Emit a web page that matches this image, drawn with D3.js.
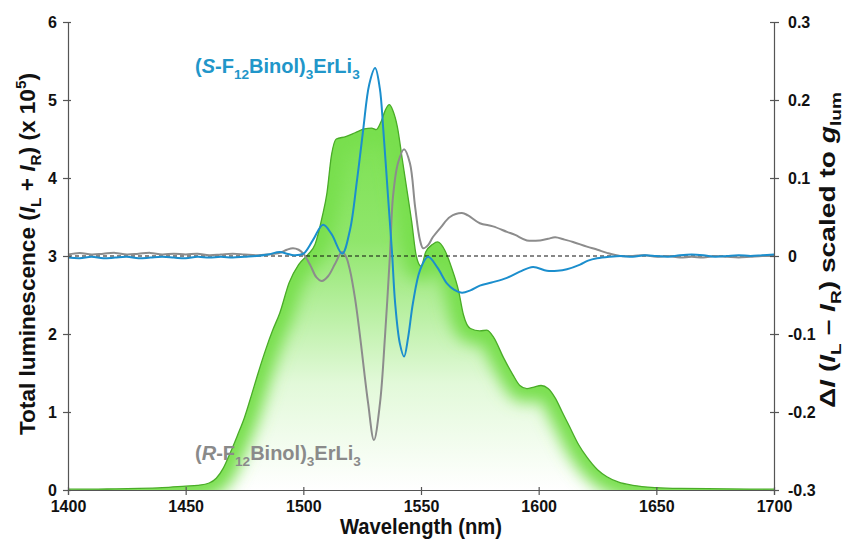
<!DOCTYPE html>
<html>
<head>
<meta charset="utf-8">
<script src="https://cdn.jsdelivr.net/npm/d3@7"></script>
<style>
  body { margin: 0; background: #fff; }
  svg { display: block; font-family: "Liberation Sans", Arial, sans-serif; font-weight: bold; }
</style>
</head>
<body>
<svg id="chart" width="849" height="540"></svg>
<script>
// --- data ---
// total luminescence (left axis, x 10^5)
const totalNm = [1400, 1410, 1420, 1430, 1440, 1450, 1455, 1460, 1463, 1466, 1469, 1472, 1475, 1478, 1481, 1484, 1487, 1490,
  1494, 1498, 1502, 1505, 1508, 1510, 1512, 1514, 1518, 1522, 1526, 1529, 1531, 1533, 1535, 1536.5, 1538, 1540, 1542, 1544,
  1546, 1548, 1550, 1552, 1555, 1557, 1560, 1563, 1566, 1568, 1571, 1575, 1578, 1581, 1585, 1589, 1592, 1595, 1598, 1601,
  1604, 1607, 1610, 1613, 1617, 1620.5, 1625, 1629, 1634, 1640, 1650, 1660, 1680, 1700];
const totalVal = [0.01, 0.01, 0.015, 0.02, 0.03, 0.05, 0.06, 0.09, 0.15, 0.28, 0.48, 0.7, 0.93, 1.22, 1.52, 1.8, 2.05, 2.27,
  2.66, 2.89, 3.02, 3.15, 3.5, 3.8, 4.3, 4.5, 4.53, 4.58, 4.63, 4.64, 4.62, 4.72, 4.88, 4.94, 4.87, 4.65, 4.25, 3.85,
  3.45, 3.0, 2.87, 3.05, 3.15, 3.18, 3.08, 2.85, 2.55, 2.25, 2.07, 2.04, 2.05, 1.95, 1.7, 1.48, 1.34, 1.3, 1.32, 1.34,
  1.3, 1.18, 1.0, 0.82, 0.58, 0.42, 0.26, 0.17, 0.1, 0.06, 0.03, 0.02, 0.015, 0.01];

// (S-F12Binol)3ErLi3, right axis
const sNm = [1400, 1405, 1410, 1415, 1420, 1425, 1430, 1435, 1440, 1445, 1450, 1455, 1460, 1465, 1470, 1475, 1480, 1485,
  1490, 1493, 1496, 1500, 1504, 1508.4, 1512, 1516.5, 1519.8, 1522.8, 1525.4, 1528, 1530.5, 1532.5, 1534, 1536, 1537.7,
  1539, 1541, 1542.8, 1544.5, 1546.6, 1549.6, 1553, 1557, 1561, 1564, 1567.4, 1571, 1575, 1580, 1586.5, 1592, 1597.6,
  1603.5, 1608, 1612, 1617.6, 1621, 1624.8, 1630, 1635, 1640, 1645, 1650, 1655, 1660, 1665, 1670, 1675, 1680, 1685,
  1690, 1695, 1700];
const sVal = [-0.002, -0.003, -0.001, -0.003, -0.002, -0.001, -0.003, -0.002, -0.001, -0.002, -0.003, -0.001, -0.002,
  -0.001, -0.002, -0.001, 0.0, 0.002, 0.005, 0.003, 0.001, 0.003, 0.02, 0.04, 0.028, 0.003, 0.033, 0.097, 0.161, 0.22,
  0.241, 0.215, 0.161, 0.076, 0.004, -0.06, -0.112, -0.129, -0.105, -0.06, -0.018, -0.001, -0.015, -0.035, -0.043,
  -0.047, -0.044, -0.038, -0.034, -0.028, -0.02, -0.014, -0.019, -0.019, -0.017, -0.011, -0.006, -0.003, -0.001, 0.0,
  -0.001, 0.001, 0.0, -0.001, 0.001, 0.002, 0.001, -0.001, 0.0, 0.001, 0.0, 0.001, 0.002];

// (R-F12Binol)3ErLi3, right axis
const rNm = [1400, 1405, 1410, 1415, 1420, 1425, 1430, 1435, 1440, 1445, 1450, 1455, 1460, 1465, 1470, 1475, 1480, 1485,
  1490, 1493, 1495.6, 1498, 1500, 1503, 1505.5, 1507.9, 1510.5, 1513.5, 1516.4, 1518, 1519.8, 1522, 1524.1, 1527.5,
  1530, 1532.6, 1534.7, 1536.8, 1538.1, 1540.2, 1542.8, 1545.3, 1547.5, 1549.6, 1550.9, 1553, 1555, 1558.5, 1562.3,
  1567.4, 1570, 1575, 1580.6, 1586.5, 1590, 1595, 1600.6, 1604, 1607, 1611, 1614.6, 1620.5, 1625, 1629, 1634.6, 1640,
  1645, 1650, 1655, 1660, 1665, 1670, 1675, 1680, 1685, 1690, 1695, 1700];
const rVal = [0.002, 0.004, 0.002, 0.003, 0.004, 0.002, 0.003, 0.004, 0.002, 0.003, 0.002, 0.003, 0.001, 0.002, 0.003,
  0.002, 0.001, 0.002, 0.004, 0.008, 0.01, 0.008, 0.003, -0.012, -0.027, -0.032, -0.026, -0.01, 0.005, 0.0, -0.018,
  -0.055, -0.103, -0.188, -0.236, -0.188, -0.103, 0.001, 0.076, 0.119, 0.137, 0.119, 0.063, 0.02, 0.01, 0.014, 0.024,
  0.037, 0.05, 0.055, 0.052, 0.042, 0.038, 0.031, 0.027, 0.02, 0.02, 0.022, 0.024, 0.021, 0.018, 0.012, 0.008, 0.004,
  0.0, 0.0, 0.001, -0.001, 0.0, -0.002, -0.001, -0.002, 0.0, -0.001, -0.002, -0.001, 0.0, 0.0];

const xTicks = [1400, 1450, 1500, 1550, 1600, 1650, 1700];
const leftTicks = [0, 1, 2, 3, 4, 5, 6];
const rightTicks = [-0.3, -0.2, -0.1, 0, 0.1, 0.2, 0.3];

// --- setup ---
const W = 849, H = 540;
const margin = {top: 22, right: 75, bottom: 50, left: 68};
const svg = d3.select("#chart");

const x = d3.scaleLinear().domain([1400, 1700]).range([margin.left, W - margin.right]);
const yL = d3.scaleLinear().domain([0, 6]).range([H - margin.bottom, margin.top]);
const yR = d3.scaleLinear().domain([-0.3, 0.3]).range([H - margin.bottom, margin.top]);

const total = totalNm.map((d, i) => [d, totalVal[i]]);
const sData = sNm.map((d, i) => [d, sVal[i]]);
const rData = rNm.map((d, i) => [d, rVal[i]]);

const defs = svg.append("defs");
const grad = defs.append("linearGradient")
  .attr("id", "greenFade")
  .attr("gradientUnits", "userSpaceOnUse")
  .attr("x1", 0).attr("x2", 0)
  .attr("y1", yL(4.9)).attr("y2", yL(0));
grad.append("stop").attr("offset", 0).attr("stop-color", "#78e04c");
grad.append("stop").attr("offset", 0.35).attr("stop-color", "#90e66c");
grad.append("stop").attr("offset", 0.72).attr("stop-color", "#e2f9d9");
grad.append("stop").attr("offset", 1).attr("stop-color", "#ffffff");

defs.append("filter").attr("id", "blur")
  .attr("x", "-20%").attr("y", "-20%").attr("width", "140%").attr("height", "140%")
  .append("feGaussianBlur").attr("stdDeviation", 8);

const area = d3.area()
  .x(d => x(d[0])).y0(yL(0)).y1(d => yL(d[1]))
  .curve(d3.curveMonotoneX);
const topLine = d3.line()
  .x(d => x(d[0])).y(d => yL(d[1]))
  .curve(d3.curveMonotoneX);

defs.append("clipPath").attr("id", "areaClip")
  .append("path").attr("d", area(total));

// green spectrum: faded fill + soft glow along the edge
svg.append("path").attr("d", area(total)).attr("fill", "url(#greenFade)");
svg.append("g").attr("clip-path", "url(#areaClip)")
  .append("path")
  .attr("d", topLine(total))
  .attr("fill", "none")
  .attr("stroke", "#78df4e")
  .attr("stroke-width", 28)
  .attr("filter", "url(#blur)");
svg.append("path").attr("d", topLine(total))
  .attr("fill", "none").attr("stroke", "#4aac28").attr("stroke-width", 1.3);

// zero line for the right axis
svg.append("line")
  .attr("x1", x(1400)).attr("x2", x(1700))
  .attr("y1", yR(0)).attr("y2", yR(0))
  .attr("stroke", "#111").attr("stroke-width", 1.2)
  .attr("stroke-dasharray", "4,3");

const lineR = d3.line().x(d => x(d[0])).y(d => yR(d[1])).curve(d3.curveCatmullRom.alpha(0.5));

svg.append("path").attr("d", lineR(rData))
  .attr("fill", "none").attr("stroke", "#8c8c8c").attr("stroke-width", 2);
svg.append("path").attr("d", lineR(sData))
  .attr("fill", "none").attr("stroke", "#1b8ecd").attr("stroke-width", 2);

// --- axes ---
const axisColor = "#555";
function styleAxis(g) {
  g.select(".domain").attr("stroke", axisColor).attr("stroke-width", 1.2);
  g.selectAll(".tick line").attr("stroke", axisColor).attr("stroke-width", 1.2);
  g.selectAll(".tick text").attr("fill", "#111").style("font-size", "16px").style("font-weight", "bold")
    .style("font-family", "'Liberation Sans', Arial, sans-serif");
}

const gx = svg.append("g").attr("transform", `translate(0,${H - margin.bottom})`)
  .call(d3.axisBottom(x).tickValues(xTicks).tickSizeOuter(0).tickSize(5).tickPadding(6).tickFormat(d3.format("d")));
styleAxis(gx);
gx.selectAll(".tick line").attr("y1", -3);

const gl = svg.append("g").attr("transform", `translate(${margin.left},0)`)
  .call(d3.axisLeft(yL).tickValues(leftTicks).tickSizeOuter(0).tickSize(5).tickPadding(6).tickFormat(d3.format("d")));
styleAxis(gl);
gl.selectAll(".tick line").attr("x1", 3);

const gr = svg.append("g").attr("transform", `translate(${W - margin.right},0)`)
  .call(d3.axisRight(yR).tickValues(rightTicks).tickSizeOuter(0).tickSize(5).tickPadding(9)
    .tickFormat(d => d === 0 ? "0" : d.toFixed(1)));
styleAxis(gr);
gr.selectAll(".tick line").attr("x1", -4);

// --- rich text helper (italics, sub and superscripts) ---
function richText(sel, parts, size) {
  let shift = 0;
  parts.forEach(p => {
    const t = sel.append("tspan").text(p.t);
    let target = 0;
    if (p.s === "sub") target = size * 0.28;
    if (p.s === "sup") target = -size * 0.4;
    const dy = target - shift;
    if (dy !== 0) t.attr("dy", dy);
    shift = target;
    t.style("font-size", (p.s === "sub" || p.s === "sup") ? (size * 0.68) + "px" : size + "px");
    if (p.i) t.style("font-style", "italic");
  });
}

// axis titles
const xTitle = svg.append("text")
  .attr("x", (x(1400) + x(1700)) / 2).attr("y", 534)
  .attr("text-anchor", "middle").attr("fill", "#111")
  .attr("textLength", 162).attr("lengthAdjust", "spacingAndGlyphs");
richText(xTitle, [{t: "Wavelength (nm)"}], 22);

const lTitle = svg.append("text")
  .attr("transform", `translate(29,${(yL(0) + yL(6)) / 2 - 2}) rotate(-90)`)
  .attr("text-anchor", "middle").attr("dy", "0.35em").attr("fill", "#111")
  .attr("textLength", 362).attr("lengthAdjust", "spacingAndGlyphs");
richText(lTitle, [
  {t: "Total luminescence ("}, {t: "I", i: true}, {t: "L", s: "sub"}, {t: " + "}, {t: "I", i: true},
  {t: "R", s: "sub"}, {t: ") (x 10"}, {t: "5", s: "sup"}, {t: ")"}
], 22);

const rTitle = svg.append("text")
  .attr("transform", `translate(829,${(yR(-0.3) + yR(0.3)) / 2 - 6}) rotate(-90)`)
  .attr("text-anchor", "middle").attr("dy", "0.35em").attr("fill", "#111")
  .attr("textLength", 316).attr("lengthAdjust", "spacingAndGlyphs");
richText(rTitle, [
  {t: "Δ"}, {t: "I", i: true}, {t: " ("}, {t: "I", i: true}, {t: "L", s: "sub"}, {t: " – "}, {t: "I", i: true},
  {t: "R", s: "sub"}, {t: ") scaled to "}, {t: "g", i: true}, {t: "lum", s: "sub"}
], 22);

// series labels
const sLabel = svg.append("text").attr("x", 195).attr("y", 73).attr("fill", "#2196c9");
richText(sLabel, [
  {t: "("}, {t: "S", i: true}, {t: "-F"}, {t: "12", s: "sub"}, {t: "Binol)"}, {t: "3", s: "sub"},
  {t: "ErLi"}, {t: "3", s: "sub"}
], 20);

const rLabel = svg.append("text").attr("x", 195).attr("y", 460).attr("fill", "#8a8a8a");
richText(rLabel, [
  {t: "("}, {t: "R", i: true}, {t: "-F"}, {t: "12", s: "sub"}, {t: "Binol)"}, {t: "3", s: "sub"},
  {t: "ErLi"}, {t: "3", s: "sub"}
], 20);
</script>
</body>
</html>
